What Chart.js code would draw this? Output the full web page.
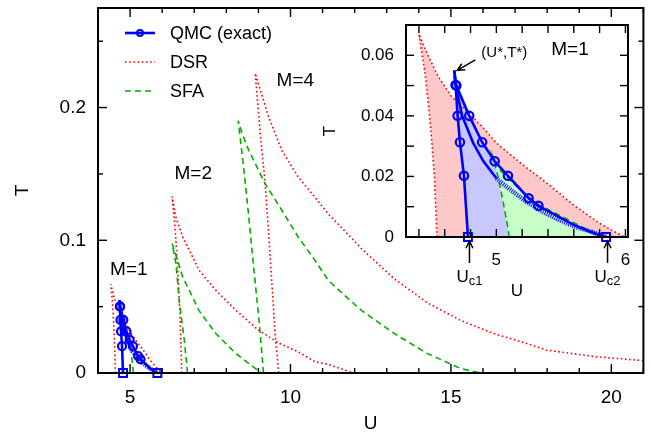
<!DOCTYPE html>
<html>
<head>
<meta charset="utf-8">
<title>Phase diagram</title>
<script src="https://cdn.jsdelivr.net/npm/chart.js@4.4.1/dist/chart.umd.min.js"></script>
<style>
    body { margin: 0; background: #fff; }
    #wrap { position: relative; width: 651px; height: 439px; }
    #wrap canvas { position: absolute; left: 0; top: 0; }
</style>
</head>
<body>
<div id="wrap">
    <canvas id="mainChart" width="651" height="439"></canvas>
    <canvas id="insetChart" width="651" height="439"></canvas>
</div>
<script>
/*
 * 상도 (U-T) 재현 스크립트
 * 값은 전부 그림에서 읽은 추정치
 * */

/* 눈금 라벨 */
const mainULabels = [5, 10, 15, 20];
const mainTLabels = [0, 0.1, 0.2];
const insetULabels = [5, 6];
const insetTLabels = [0, 0.02, 0.04, 0.06];
const legendNames = ['QMC (exact)', 'DSR', 'SFA'];

/* M=1 QMC : 왼쪽 가지 (Uc1 -> U*,T*) */
const qmcLeftU = [4.78, 4.749, 4.718, 4.70, 4.684, 4.674];
const qmcLeftT = [0, 0.0202, 0.0313, 0.040, 0.0502, 0.055];
/* M=1 QMC : 바깥 가지 (U*,T* -> Uc2) */
const qmcOuterU = [4.674, 4.69, 4.79, 4.89, 4.987, 5.09, 5.25, 5.326, 5.45, 5.60, 5.75, 5.85];
const qmcOuterT = [0.055, 0.050, 0.040, 0.0313, 0.025, 0.0202, 0.0128, 0.0103, 0.0075, 0.004, 0.0013, 0];
/* M=1 QMC : 안쪽 곡선 (실선 + 빗금) */
const qmcInnerU = [4.676, 4.70, 4.735, 4.82, 4.90, 5.00];
const qmcInnerT = [0.053, 0.047, 0.040, 0.0311, 0.025, 0.0194];
const qmcHatchU = [5.00, 5.06, 5.128, 5.23, 5.36, 5.487, 5.615, 5.74, 5.85];
const qmcHatchT = [0.0194, 0.0172, 0.015, 0.0117, 0.0083, 0.0056, 0.0033, 0.0017, 0];
/* M=1 QMC 측정점, 임계점 */
const qmcDotU = [4.684, 4.70, 4.718, 4.749, 4.69, 4.79, 4.89, 4.987, 5.09, 5.25, 5.326];
const qmcDotT = [0.0502, 0.040, 0.0313, 0.0202, 0.050, 0.040, 0.0313, 0.025, 0.0202, 0.0128, 0.0103];
const qmcCritU = [4.78, 5.85];
const qmcCritT = [0, 0];

/* DSR */
const dsr1U = [4.54, 4.52, 4.49, 4.45, 4.40, 4.47, 4.55, 4.65, 4.76, 4.90, 5.00, 5.20, 5.40, 5.60, 5.80, 5.99];
const dsr1T = [0, 0.020, 0.0367, 0.0533, 0.067, 0.060, 0.053, 0.0465, 0.042, 0.036, 0.031, 0.024, 0.0175, 0.0105, 0.0045, 0];
const dsr2U = [6.61, 6.56, 6.48, 6.40, 6.31, 6.42, 6.64, 6.95, 7.15, 7.67, 8.29, 9.00, 9.63, 10.24, 10.76, 11.17, 11.60, 11.94];
const dsr2T = [0, 0.042, 0.080, 0.110, 0.133, 0.118, 0.1025, 0.0875, 0.0774, 0.0624, 0.0474, 0.0323, 0.0226, 0.016, 0.0085, 0.0065, 0.003, 0];
const dsr4U = [9.63, 9.52, 9.42, 9.32, 9.21, 9.06, 8.90, 9.32, 9.73, 10.24, 10.76, 11.17, 11.79, 12.20, 13.23, 14.26, 15.29, 16.32, 17.20, 17.97, 19.50, 21.00];
const dsr4T = [0, 0.0298, 0.0674, 0.105, 0.1426, 0.180, 0.2258, 0.1927, 0.1677, 0.1476, 0.1326, 0.120, 0.1045, 0.094, 0.071, 0.053, 0.0398, 0.0298, 0.0235, 0.0173, 0.0123, 0.0093];

/* SFA */
const sfa1U = [5.10, 5.09, 5.05, 5.013, 4.97, 5.03, 5.13, 5.23, 5.33, 5.50, 5.70, 5.85];
const sfa1T = [0, 0.003, 0.0122, 0.020, 0.027, 0.022, 0.0178, 0.0139, 0.0106, 0.007, 0.0025, 0];
const sfa2U = [6.79, 6.69, 6.53, 6.43, 6.31, 6.48, 6.64, 7.15, 7.67, 8.29, 8.90, 9.10];
const sfa2T = [0, 0.0248, 0.055, 0.0825, 0.0975, 0.085, 0.0724, 0.047, 0.0298, 0.0148, 0.0035, 0];
const sfa4U = [9.16, 9.01, 8.85, 8.70, 8.54, 8.37, 8.50, 8.70, 9.21, 9.73, 10.24, 10.76, 11.17, 11.79, 12.20, 13.23, 14.26, 15.29, 15.91];
const sfa4T = [0, 0.042, 0.080, 0.1175, 0.155, 0.190, 0.180, 0.1677, 0.1426, 0.1226, 0.1025, 0.085, 0.070, 0.0562, 0.0474, 0.0298, 0.0148, 0.0035, 0];

const FONT = '"Liberation Sans", Arial, Helvetica, sans-serif';
const BLUE = '#0000ff';
const RED = '#ff0000';
const GREEN = '#00b000';
const DSR_DASH = [1.6, 2.6];
const SFA_DASH = [6, 4];

/*
 * U, T 배열 -> {x, y} 점 목록
 * */
const toPoints = function (us, ts) {
    return us.map((u, i) => ({x: u, y: ts[i]}));
};

/*
 * 채우기용 점 목록 : 가장 왼쪽 U 의 바닥에서 시작해야 잘리지 않음
 * */
const fillPoints = function (us, ts) {
    return [{x: Math.min(...us), y: 0}].concat(toPoints(us, ts));
};

/*
 * 눈금 라벨 : 라벨 목록에 있는 값만 글자로 표시
 * */
const tickText = function (v, labels) {
    const hit = labels.find(l => Math.abs(l - v) < 1e-9);
    return hit === undefined ? '' : String(hit);
};

/*
 * 축 크기 고정 (라벨 여백 제거)
 * */
const fixHeight = h => s => { s.height = h; s.paddingLeft = 0; s.paddingRight = 0; };
const fixWidth = w => s => { s.width = w; s.paddingTop = 0; s.paddingBottom = 0; };

const dsrLine = (us, ts) => ({data: toPoints(us, ts), borderColor: RED, borderWidth: 1.6, borderDash: DSR_DASH, pointRadius: 0, order: 5});
const sfaLine = (us, ts) => ({data: toPoints(us, ts), borderColor: GREEN, borderWidth: 1.6, borderDash: SFA_DASH, pointRadius: 0, order: 4});
const qmcLine = (us, ts) => ({data: toPoints(us, ts), borderColor: BLUE, borderWidth: 2.6, pointRadius: 0, order: 3});
const hatchLine = () => ({data: toPoints(qmcHatchU, qmcHatchT), borderColor: '#1818ff', borderWidth: 4.5, borderDash: [1.1, 1.1], pointRadius: 0, order: 3});
const circles = (r) => ({
    data: toPoints(qmcDotU, qmcDotT), showLine: false, pointStyle: 'circle', pointRadius: r,
    pointBorderWidth: 2.2, pointBorderColor: BLUE, pointBackgroundColor: 'rgba(0,0,0,0)', order: 1
});
const squares = () => ({
    data: toPoints(qmcCritU, qmcCritT), showLine: false, pointStyle: 'rect', pointRadius: 5.6,
    pointBorderWidth: 2, pointBorderColor: BLUE, pointBackgroundColor: 'rgba(0,0,0,0)', order: 0, clip: false
});
const fillArea = (us, ts, color, order) => ({
    data: fillPoints(us, ts), borderColor: 'rgba(0,0,0,0)', borderWidth: 0, pointRadius: 0,
    fill: 'origin', backgroundColor: color, order: order
});

/*
 * 테두리 + 안쪽 눈금 (위/아래/좌/우)
 * */
const frameTicks = {
    id: 'frameTicks',
    beforeDraw(chart, args, opts) {
        if (!opts.white) return;
        const a = chart.chartArea;
        chart.ctx.save();
        chart.ctx.fillStyle = '#fff';
        chart.ctx.fillRect(a.left, a.top, a.right - a.left, a.bottom - a.top);
        chart.ctx.restore();
    },
    afterDraw(chart, args, opts) {
        const ctx = chart.ctx;
        const a = chart.chartArea;
        const sx = chart.scales.x;
        const sy = chart.scales.y;
        const seg = (x1, y1, x2, y2) => { ctx.beginPath(); ctx.moveTo(x1, y1); ctx.lineTo(x2, y2); ctx.stroke(); };
        ctx.save();
        ctx.strokeStyle = '#000';
        ctx.lineWidth = 1.4;
        sx.ticks.forEach(t => {
            const p = sx.getPixelForValue(t.value);
            const len = t.label ? opts.major : opts.minor;
            seg(p, a.bottom, p, a.bottom - len);
            seg(p, a.top, p, a.top + len);
        });
        sy.ticks.forEach(t => {
            const p = sy.getPixelForValue(t.value);
            const len = t.label ? opts.major : opts.minor;
            seg(a.left, p, a.left + len, p);
            seg(a.right, p, a.right - len, p);
        });
        ctx.lineWidth = 2;
        ctx.strokeRect(a.left, a.top, a.right - a.left, a.bottom - a.top);
        ctx.restore();
    }
};

/*
 * 범례 (QMC / DSR / SFA)
 * */
const legendPlugin = {
    id: 'phaseLegend',
    afterDraw(chart) {
        const ctx = chart.ctx;
        const a = chart.chartArea;
        const styles = [
            {color: BLUE, width: 2.6, dash: [], marker: true},
            {color: RED, width: 1.6, dash: DSR_DASH},
            {color: GREEN, width: 1.6, dash: SFA_DASH}
        ];
        ctx.save();
        legendNames.forEach((name, i) => {
            const s = styles[i];
            const y = a.top + 25 + i * 29;
            const x0 = a.left + 27;
            ctx.strokeStyle = s.color;
            ctx.lineWidth = s.width;
            ctx.setLineDash(s.dash);
            ctx.beginPath();
            ctx.moveTo(x0, y);
            ctx.lineTo(x0 + 30, y);
            ctx.stroke();
            if (s.marker) {
                ctx.setLineDash([]);
                ctx.lineWidth = 2;
                ctx.beginPath();
                ctx.arc(x0 + 15, y, 3, 0, Math.PI * 2);
                ctx.stroke();
            }
            ctx.fillStyle = '#000';
            ctx.font = '18px ' + FONT;
            ctx.textAlign = 'left';
            ctx.textBaseline = 'middle';
            ctx.fillText(name, x0 + 45, y + 1);
        });
        ctx.restore();
    }
};

/*
 * 본 그래프 M 라벨
 * */
const mainLabels = {
    id: 'mainLabels',
    afterDraw(chart, args, opts) {
        const ctx = chart.ctx;
        ctx.save();
        ctx.fillStyle = '#000';
        ctx.font = '19px ' + FONT;
        ctx.textAlign = 'center';
        ctx.textBaseline = 'middle';
        opts.items.forEach(it => {
            ctx.fillText(it.text, chart.scales.x.getPixelForValue(it.u), chart.scales.y.getPixelForValue(it.t));
        });
        ctx.restore();
    }
};

/*
 * 확대 그래프 주석 : (U*,T*) 화살표, Uc1, Uc2
 * */
const insetNotes = {
    id: 'insetNotes',
    afterDraw(chart) {
        const ctx = chart.ctx;
        const a = chart.chartArea;
        const sx = chart.scales.x;
        const sy = chart.scales.y;
        const arrow = (x1, y1, x2, y2) => {
            const ang = Math.atan2(y2 - y1, x2 - x1);
            ctx.beginPath();
            ctx.moveTo(x1, y1);
            ctx.lineTo(x2, y2);
            ctx.moveTo(x2 - 8 * Math.cos(ang - 0.45), y2 - 8 * Math.sin(ang - 0.45));
            ctx.lineTo(x2, y2);
            ctx.lineTo(x2 - 8 * Math.cos(ang + 0.45), y2 - 8 * Math.sin(ang + 0.45));
            ctx.stroke();
        };
        ctx.save();
        ctx.strokeStyle = '#000';
        ctx.fillStyle = '#000';
        ctx.lineWidth = 1.5;

        // (U*,T*)
        const topU = qmcLeftU[qmcLeftU.length - 1];
        const topT = qmcLeftT[qmcLeftT.length - 1];
        const px = sx.getPixelForValue(topU) + 3;
        const py = sy.getPixelForValue(topT);
        arrow(px + 18, py - 10.5, px, py);
        ctx.font = '15px ' + FONT;
        ctx.textAlign = 'center';
        ctx.textBaseline = 'middle';
        ctx.fillText('(U*,T*)', px + 47, py - 18);

        ctx.font = '19px ' + FONT;
        ctx.fillText('M=1', a.right - 58, a.top + 25);

        // Uc1, Uc2
        ['c1', 'c2'].forEach((sub, i) => {
            const x = sx.getPixelForValue(qmcCritU[i]) + 1.5;
            arrow(x, a.bottom + 26, x, a.bottom + 4);
            ctx.textBaseline = 'alphabetic';
            ctx.textAlign = 'left';
            ctx.font = '17px ' + FONT;
            const wU = ctx.measureText('U').width;
            ctx.font = '13px ' + FONT;
            const wS = ctx.measureText(sub).width;
            const x0 = x - (wU + wS) / 2;
            ctx.font = '17px ' + FONT;
            ctx.fillText('U', x0, a.bottom + 45);
            ctx.font = '13px ' + FONT;
            ctx.fillText(sub, x0 + wU, a.bottom + 48);
        });
        ctx.restore();
    }
};

const axisFont = (size) => ({family: FONT, size: size});

/*
 * 본 그래프
 * */
new Chart(document.getElementById('mainChart'), {
    type: 'line',
    data: {
        datasets: [
            squares(),
            circles(4),
            qmcLine(qmcLeftU, qmcLeftT),
            qmcLine(qmcOuterU, qmcOuterT),
            qmcLine(qmcInnerU, qmcInnerT),
            hatchLine(),
            sfaLine(sfa1U, sfa1T),
            sfaLine(sfa2U, sfa2T),
            sfaLine(sfa4U, sfa4T),
            dsrLine(dsr1U, dsr1T),
            dsrLine(dsr2U, dsr2T),
            dsrLine(dsr4U, dsr4T)
        ]
    },
    options: {
        responsive: false,
        animation: false,
        layout: {padding: {left: 0, top: 8, right: 3, bottom: 0}},
        plugins: {
            legend: {display: false},
            tooltip: {enabled: false},
            frameTicks: {major: 9, minor: 5},
            mainLabels: {items: [
                {text: 'M=1', u: 4.96, t: 0.078},
                {text: 'M=2', u: 6.97, t: 0.150},
                {text: 'M=4', u: 10.15, t: 0.220}
            ]}
        },
        scales: {
            x: {
                type: 'linear', min: 4, max: 21,
                afterFit: fixHeight(66),
                grid: {display: false, drawTicks: false},
                border: {display: false},
                ticks: {stepSize: 1, autoSkip: false, includeBounds: false, maxRotation: 0, padding: 13,
                    color: '#000', font: axisFont(19), callback: v => tickText(v, mainULabels)},
                title: {display: true, text: 'U', color: '#000', font: axisFont(19), padding: {top: 0, bottom: 4}}
            },
            y: {
                type: 'linear', min: 0, max: 0.275,
                afterFit: fixWidth(98),
                grid: {display: false, drawTicks: false},
                border: {display: false},
                ticks: {stepSize: 0.05, autoSkip: false, includeBounds: false, padding: 12,
                    color: '#000', font: axisFont(19), callback: v => tickText(v, mainTLabels)},
                title: {display: true, text: 'T', color: '#000', font: axisFont(19), padding: {top: 11, bottom: 0}}
            }
        }
    },
    plugins: [frameTicks, legendPlugin, mainLabels]
});

/*
 * 확대 그래프 (M=1)
 * */
new Chart(document.getElementById('insetChart'), {
    type: 'line',
    data: {
        datasets: [
            squares(),
            circles(4.2),
            qmcLine(qmcLeftU, qmcLeftT),
            qmcLine(qmcOuterU, qmcOuterT),
            qmcLine(qmcInnerU, qmcInnerT),
            hatchLine(),
            sfaLine(sfa1U, sfa1T),
            dsrLine(dsr1U, dsr1T),
            fillArea(sfa1U, sfa1T, '#c8ffc8', 10),
            fillArea(qmcLeftU.concat(qmcOuterU), qmcLeftT.concat(qmcOuterT), '#c8c8ff', 11),
            fillArea(dsr1U, dsr1T, '#ffc8c8', 12)
        ]
    },
    options: {
        responsive: false,
        animation: false,
        layout: {padding: {left: 300, top: 25, right: 23, bottom: 122}},
        plugins: {
            legend: {display: false},
            tooltip: {enabled: false},
            filler: {propagate: false},
            frameTicks: {major: 8, minor: 8, white: true}
        },
        scales: {
            x: {
                type: 'linear', min: 4.3, max: 6.02,
                afterFit: fixHeight(80),
                grid: {display: false, drawTicks: false},
                border: {display: false},
                ticks: {stepSize: 0.2, autoSkip: false, includeBounds: false, maxRotation: 0, padding: 13,
                    color: '#000', font: axisFont(17), callback: v => tickText(v, insetULabels)},
                title: {display: true, text: 'U', color: '#000', font: axisFont(17), padding: {top: 0, bottom: 15}}
            },
            y: {
                type: 'linear', min: 0, max: 0.07,
                afterFit: fixWidth(106),
                grid: {display: false, drawTicks: false},
                border: {display: false},
                ticks: {stepSize: 0.01, autoSkip: false, includeBounds: false, padding: 12,
                    color: '#000', font: axisFont(17), callback: v => tickText(v, insetTLabels)},
                title: {display: true, text: 'T', color: '#000', font: axisFont(17), padding: {top: 20, bottom: 0}}
            }
        }
    },
    plugins: [frameTicks, insetNotes]
});
</script>
</body>
</html>
